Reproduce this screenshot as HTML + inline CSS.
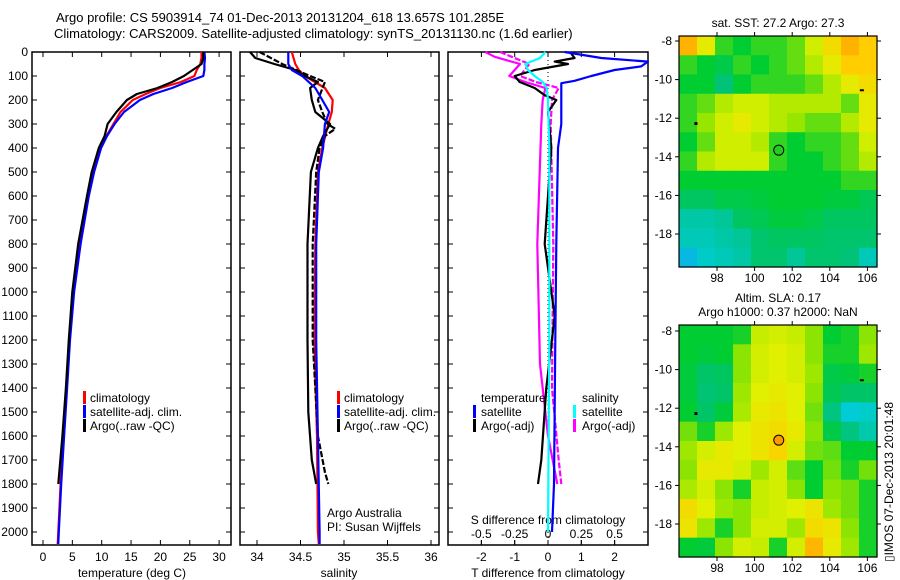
<!DOCTYPE html>
<html><head><meta charset="utf-8"><style>
html,body{margin:0;padding:0;background:#fff;}
svg{display:block;font-family:"Liberation Sans",sans-serif;}
text{font-size:12px;fill:#000;}
</style></head><body>
<svg id="chart" width="900" height="580" viewBox="0 0 900 580" xmlns="http://www.w3.org/2000/svg">
<text x="56" y="22" style="font-size:13px">Argo profile: CS 5903914_74 01-Dec-2013 20131204_618 13.657S 101.285E</text>
<text x="54" y="38" style="font-size:13px">Climatology: CARS2009. Satellite-adjusted climatology: synTS_20131130.nc (1.6d earlier)</text>
<g id="maps"></g>
<g id="panels"></g>
<text transform="translate(893,562) rotate(-90)" style="font-size:12px">▯IMOS 07-Dec-2013 20:01:48</text>
</svg>
<script>
// ---- Data ----
const tempDepth = [0,25,50,75,100,125,150,175,200,250,300,350,400,500,600,800,1000,1200,1400,1600,1800,2000,2050];
const tempClim = [27.0,27.0,26.8,26.2,25.8,23.5,20.0,17.5,15.3,13.2,12.0,10.8,9.7,8.5,7.6,6.2,5.1,4.5,4.0,3.5,3.0,2.6,2.5];
const tempSat = [27.5,27.6,27.5,27.5,27.3,24.5,22.0,18.8,16.5,13.8,12.2,10.9,9.9,8.7,7.8,6.4,5.3,4.6,4.1,3.6,3.1,2.7,2.6];
const argoDepth = [0,25,50,75,100,125,150,175,200,250,300,350,400,500,600,800,1000,1200,1400,1600,1800];
const tempArgo = [27.3,27.3,27.0,25.5,24.0,22.0,19.5,16.0,14.3,12.5,11.0,10.5,9.5,8.3,7.5,6.0,5.0,4.4,3.9,3.3,2.6];

const salDepth = [0,50,75,100,150,200,250,300,400,500,800,1200,1600,2000,2050];
const salClim = [34.40,34.44,34.48,34.55,34.78,34.87,34.86,34.82,34.75,34.70,34.67,34.66,34.69,34.70,34.71];
const salSat = [34.36,34.36,34.40,34.52,34.67,34.75,34.83,34.78,34.76,34.71,34.68,34.68,34.70,34.72,34.72];
const salArgoDepth = [0,25,50,75,100,125,150,200,250,300,350,400,500,800,1200,1500,1700,1800];
const salArgo = [33.92,33.98,34.20,34.44,34.55,34.70,34.61,34.63,34.67,34.84,34.76,34.70,34.62,34.58,34.58,34.59,34.63,34.68];
const salArgo2Depth = [0,50,100,125,200,250,300,320,350,400,500,800,1200,1600,1750,1800];
const salArgo2 = [34.03,34.29,34.61,34.78,34.70,34.75,34.81,34.90,34.78,34.72,34.68,34.64,34.64,34.70,34.78,34.82];

const dTDepth = [0,25,40,60,75,100,120,130,160,300,400,800,1200,1800,2000];
const dTSat = [0.5,1.6,3.0,2.8,2.0,1.3,0.8,0.4,0.4,0.4,0.3,0.25,0.22,0.18,0.12];
const dTArgoDepth = [0,25,40,50,75,100,125,150,180,200,250,400,800,1100,1400,1700,1800];
const dTArgo = [0.66,0.8,0.2,0.6,-0.4,-1.0,-0.85,-0.4,-0.1,0.25,0.0,0.1,-0.1,0.2,-0.05,-0.2,-0.3];
const dSDepth = [0,25,50,75,100,125,150,200,400,800,1200,2000];
const dSSat = [-0.02,-0.06,-0.17,-0.15,-0.10,-0.04,-0.01,0.0,0.01,0.01,0.01,0.0];
const dSArgoDepth = [0,20,50,75,100,125,150,200,300,800,1300,1600,1800];
const dSArgo = [-0.47,-0.40,-0.21,-0.25,-0.29,-0.17,-0.02,-0.04,-0.05,-0.08,-0.06,0.0,0.07];
const dSArgo2Depth = [0,50,100,125,150,200,300,800,1400,1700,1800];
const dSArgo2 = [-0.36,-0.14,-0.21,-0.09,0.08,0.03,0.02,0.04,0.03,0.08,0.10];

const depthTicks = [0,100,200,300,400,500,600,700,800,900,1000,1100,1200,1300,1400,1500,1600,1700,1800,1900,2000];
const tempTicks = [0,5,10,15,20,25,30];
const salTicks = [34,34.5,35,35.5,36];
const salTickLabels = ["34","34.5","35","35.5","36"];
const dTTicks = [-2,-1,0,1,2];
const dSTicks = [-0.5,-0.25,0,0.25,0.5];
const dSTickLabels = ["-0.5","-0.25","0","0.25","0.5"];

const lonTicks = [98,100,102,104,106];
const latTicks = [-8,-10,-12,-14,-16,-18];
// SST grid (deg C), rows lat -8 .. -19, cols lon 96.2..106.5
const sstGrid = [
[27.9,27.6,27.1,27.0,27.1,27.1,27.2,27.5,27.7,27.9,27.8],
[27.1,27.0,26.9,27.1,27.0,27.1,27.2,27.4,27.6,27.8,27.8],
[27.0,27.0,26.7,27.0,27.1,27.1,27.1,27.2,27.4,27.6,27.7],
[27.1,27.2,27.4,27.5,27.5,27.4,27.4,27.4,27.4,27.2,27.6],
[27.1,27.3,27.5,27.6,27.5,27.4,27.3,27.2,27.2,27.4,27.6],
[27.0,27.2,27.5,27.5,27.4,27.1,27.0,27.1,27.1,27.2,27.5],
[27.1,27.4,27.5,27.5,27.5,27.1,27.0,27.0,27.1,27.2,27.4],
[27.0,27.0,27.0,27.0,27.0,27.0,27.0,27.0,27.0,27.1,27.1],
[26.8,26.8,26.9,26.9,26.95,27.0,27.0,27.0,26.95,26.95,26.85],
[26.55,26.55,26.6,26.8,26.85,26.95,26.95,26.9,26.8,26.8,26.8],
[26.5,26.5,26.55,26.6,26.75,26.8,26.8,26.8,26.75,26.75,26.75],
[26.3,26.45,26.5,26.55,26.75,26.75,26.6,26.75,26.75,26.7,26.5]];
// SLA grid (m)
const slaGrid = [
[0.05,0.05,0.05,0.06,0.15,0.16,0.15,0.11,0.05,0.06,0.11],
[0.05,0.04,0.05,0.11,0.16,0.17,0.16,0.11,0.06,0.06,0.12],
[0.04,0.00,0.01,0.11,0.16,0.17,0.16,0.12,0.03,0.04,0.06],
[0.04,-0.01,0.00,0.12,0.17,0.18,0.17,0.11,0.02,0.00,0.00],
[0.05,0.00,0.04,0.13,0.18,0.19,0.17,0.10,-0.02,-0.08,-0.07],
[0.10,0.06,0.12,0.17,0.19,0.20,0.18,0.11,0.03,-0.02,-0.05],
[0.12,0.16,0.18,0.17,0.19,0.21,0.16,0.10,0.09,0.05,0.05],
[0.11,0.18,0.18,0.16,0.12,0.16,0.09,0.05,0.10,0.06,0.10],
[0.13,0.16,0.11,0.06,0.15,0.16,0.11,0.05,0.11,0.10,0.06],
[0.20,0.17,0.12,0.11,0.15,0.16,0.17,0.19,0.12,0.10,0.06],
[0.19,0.12,0.06,0.11,0.16,0.16,0.12,0.20,0.19,0.11,0.06],
[0.05,0.04,0.11,0.16,0.15,0.06,0.16,0.24,0.18,0.12,0.06]];

// ---- helpers ----
const NS = "http://www.w3.org/2000/svg";
function mk(tag, attrs, parent){const e=document.createElementNS(NS,tag);for(const k in attrs)e.setAttribute(k,attrs[k]);parent.appendChild(e);return e;}
const panels = document.getElementById('panels');
const maps = document.getElementById('maps');
const PY0=52, PY1=545;
const yD = d => 52 + d*0.24;

function drawBox(x0,x1,name){
  const r = mk('rect',{x:x0,y:PY0,width:x1-x0,height:PY1-PY0,fill:'none',stroke:'#000','stroke-width':1.5},panels);
  
  
  depthTicks.forEach(d=>{
    mk('line',{x1:x0,x2:x0+5,y1:yD(d),y2:yD(d),stroke:'#000'},panels);
    mk('line',{x1:x1,x2:x1-5,y1:yD(d),y2:yD(d),stroke:'#000'},panels);
  });
}
function xTicks(vals,labels,fx,ylab,name,top){
  vals.forEach((v,i)=>{
    const x=fx(v);
    mk('line',{x1:x,x2:x,y1:PY1,y2:PY1-5,stroke:'#000'},panels);
    if(top) mk('line',{x1:x,x2:x,y1:PY0,y2:PY0+5,stroke:'#000'},panels);
    const t=mk('text',{x:x,y:ylab,'text-anchor':'middle'},panels);
    t.textContent=labels[i];
    
    
  });
}
function line(xs,ds,fx,color,name,dash){
  const pts = xs.map((v,i)=>fx(v).toFixed(1)+','+yD(ds[i]).toFixed(1)).join(' ');
  const a={points:pts,fill:'none',stroke:color,'stroke-width':2.2,'stroke-linejoin':'round'};
  if(dash) a['stroke-dasharray']=dash;
  const p=mk('polyline',a,panels);
  
  
}
function label(x,y,txt,name,anchor){
  const t=mk('text',{x:x,y:y,'text-anchor':anchor||'start'},panels);
  t.textContent=txt;
  
  
}
function legendMark(x,y,color){mk('rect',{x:x,y:y-11,width:3,height:13,fill:color},panels);}

// ---- Panel 1: temperature ----
const fT = v => 43 + v*5.87;
drawBox(32,231,'temperature-panel');
depthTicks.forEach(d=>{label(28,yD(d)+4,String(d),'depth-tick-label','end');});
xTicks(tempTicks,tempTicks.map(String),fT,561,'temperature-tick-label',true);
label(132,577,'temperature (deg C)','temperature-axis-title','middle');
line(tempClim,tempDepth,fT,'#ff0000','temperature-climatology-line');
line(tempSat,tempDepth,fT,'#0000ff','temperature-satellite-line');
line(tempArgo,argoDepth,fT,'#000000','temperature-argo-line');
legendMark(83,402,'#f00');label(90,402,'climatology','legend-climatology');
legendMark(83,416,'#00f');label(90,416,'satellite-adj. clim.','legend-satellite');
legendMark(83,430,'#000');label(90,430,'Argo(..raw -QC)','legend-argo');

// ---- Panel 2: salinity ----
const fS = v => 257 + (v-34)*87;
drawBox(240,439,'salinity-panel');
xTicks(salTicks,salTickLabels,fS,561,'salinity-tick-label',true);
label(339,577,'salinity','salinity-axis-title','middle');
line(salClim,salDepth,fS,'#ff0000','salinity-climatology-line');
line(salArgo,salArgoDepth,fS,'#000000','salinity-argo-line');
line(salArgo2,salArgo2Depth,fS,'#000000','salinity-argo-raw-line','6,2');
line(salSat,salDepth,fS,'#0000ff','salinity-satellite-line');
legendMark(337,402,'#f00');label(344,402,'climatology','legend-climatology');
legendMark(337,416,'#00f');label(344,416,'satellite-adj. clim.','legend-satellite');
legendMark(337,430,'#000');label(344,430,'Argo(..raw -QC)','legend-argo');
label(327,517,'Argo Australia','operator-label');
label(327,531,'PI: Susan Wijffels','pi-label');

// ---- Panel 3: differences ----
const fDT = v => 548 + v*33.3;
const fDS = v => 548 + v*133.3;
drawBox(448,648,'difference-panel');
mk('line',{x1:548,x2:548,y1:PY0,y2:PY1,stroke:'#000','stroke-dasharray':'1,3'},panels);
xTicks(dTTicks,dTTicks.map(String),fDT,561,'t-difference-tick-label',true);
label(548,577,'T difference from climatology','t-difference-axis-title','middle');
dSTicks.forEach((v,i)=>{
  const x=fDS(v);
  mk('line',{x1:x,x2:x,y1:PY1,y2:PY1-5,stroke:'#000'},panels);
  label(x,538,dSTickLabels[i],'s-difference-tick-label','middle');
});
label(548,524,'S difference from climatology','s-difference-axis-title','middle');
line(dSArgo,dSArgoDepth,fDS,'#ff00ff','s-argo-difference-line');
line(dSArgo2,dSArgo2Depth,fDS,'#ff00ff','s-argo-raw-difference-line','6,2');
line(dTArgo,dTArgoDepth,fDT,'#000000','t-argo-difference-line');
line(dTSat,dTDepth,fDT,'#0000ff','t-satellite-difference-line');
line(dSSat,dSDepth,fDS,'#00ffff','s-satellite-difference-line');
label(481,402,'temperature','legend-temperature-heading');
legendMark(473,416,'#00f');label(481,416,'satellite','legend-t-satellite');
legendMark(473,430,'#000');label(481,430,'Argo(-adj)','legend-t-argo');
label(582,402,'salinity','legend-salinity-heading');
legendMark(573,416,'#0ff');label(582,416,'satellite','legend-s-satellite');
legendMark(573,430,'#f0f');label(582,430,'Argo(-adj)','legend-s-argo');

// ---- Maps ----
const cmapStops=[[0,[30,120,255]],[0.2,[0,205,215]],[0.35,[0,195,120]],[0.5,[0,205,50]],[0.65,[150,230,0]],[0.78,[225,240,0]],[0.9,[255,205,0]],[1,[255,150,0]]];
function cmap(t){t=Math.max(0,Math.min(1,t));for(let i=1;i<cmapStops.length;i++){if(t<=cmapStops[i][0]){const a=cmapStops[i-1],b=cmapStops[i];const f=(t-a[0])/(b[0]-a[0]);const c=a[1].map((v,k)=>Math.round(v+(b[1][k]-v)*f));return 'rgb('+c.join(',')+')';}}return 'rgb(255,150,0)';}
function drawMap(y0,y1,grid,vmin,vmax,name,title1,title2,dotColor){
  const x0=679,x1=877;
  const fx=lon=>717+(lon-98)*18.8;
  const latY0 = y0===36?41:331;
  const fy=lat=>latY0+(-8-lat)*19.3;
  const rows=grid.length, cols=grid[0].length;
  const cw=(x1-x0)/cols, ch=(y1-y0)/rows;
  grid.forEach((row,r)=>row.forEach((v,c)=>{
    const cell=mk('rect',{x:(x0+c*cw).toFixed(2),y:(y0+r*ch).toFixed(2),width:(cw+0.6).toFixed(2),height:(ch+0.6).toFixed(2),fill:cmap((v-vmin)/(vmax-vmin))},maps);
    
    
  }));
  const b=mk('rect',{x:x0,y:y0,width:x1-x0,height:y1-y0,fill:'none',stroke:'#000','stroke-width':1.2},maps);
  
  
  lonTicks.forEach(l=>{const x=fx(l);mk('line',{x1:x,x2:x,y1:y1,y2:y1+4,stroke:'#000'},maps);mk('line',{x1:x,x2:x,y1:y0,y2:y0-4,stroke:'#000'},maps);
    const t=mk('text',{x:x,y:y1+15,'text-anchor':'middle'},maps);t.textContent=String(l);
    
    });
  latTicks.forEach(l=>{const y=fy(l);mk('line',{x1:x0,x2:x0-4,y1:y,y2:y,stroke:'#000'},maps);mk('line',{x1:x1,x2:x1+4,y1:y,y2:y,stroke:'#000'},maps);
    const t=mk('text',{x:672,y:y+4,'text-anchor':'end'},maps);t.textContent=String(l);
    
    });
  const c=mk('circle',{cx:fx(101.285),cy:fy(-13.657),r:5,fill:dotColor,stroke:'#000','stroke-width':1},maps);
  
  
  mk('rect',{x:fx(96.8),y:fy(-12.2),width:3,height:3,fill:'#000'},maps);
  mk('rect',{x:fx(105.6),y:fy(-10.5),width:4,height:2,fill:'#000'},maps);
  const t1=mk('text',{x:778,y:title2?y0-23:y0-9,'text-anchor':'middle'},maps);t1.textContent=title1;
  
  
  if(title2){const t2=mk('text',{x:778,y:y0-9,'text-anchor':'middle'},maps);t2.textContent=title2;
    
    }
}
drawMap(36,267,sstGrid,26.0,28.0,'sst-map','sat. SST: 27.2 Argo: 27.3',null,'#22cc22');
drawMap(325,557,slaGrid,-0.165,0.265,'sla-map','Altim. SLA: 0.17','Argo h1000: 0.37 h2000: NaN','#ff9900');
</script>
</body></html>
